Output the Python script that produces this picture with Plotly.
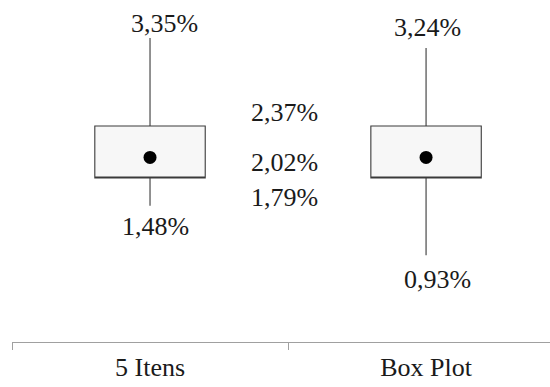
import plotly.graph_objects as go

categories = ["5 Itens", "Box Plot"]
q1_vals = [1.79, 1.79]
q3_vals = [2.37, 2.37]
mean_vals = [2.02, 2.02]
min_vals = [1.48, 0.93]
max_vals = [3.35, 3.24]

def fmt(v):
    return f"{v:.2f}".replace(".", ",") + "%"

FONT = "Liberation Serif"
TXT = "#1a1a1a"

fig = go.Figure()
fig.add_trace(go.Box(
    x=categories,
    q1=q1_vals, median=q1_vals, q3=q3_vals,
    lowerfence=min_vals, upperfence=max_vals,
    width=0.40, whiskerwidth=0,
    fillcolor="#f7f7f7",
    line=dict(color="#3a3a3a", width=1.1),
    boxpoints=False, hoverinfo="skip", showlegend=False,
))
fig.add_trace(go.Scatter(
    x=categories, y=mean_vals, mode="markers",
    marker=dict(color="black", size=13),
    hoverinfo="skip", showlegend=False,
))

ann = []
# top whisker labels
for c, v, xs, ys in zip(categories, max_vals, [14, 1], [15, 20]):
    ann.append(dict(x=c, y=v, text=fmt(v), xshift=xs, yshift=ys))
# bottom whisker labels
for c, v, xs, ys in zip(categories, min_vals, [5, 11], [-21, -24]):
    ann.append(dict(x=c, y=v, text=fmt(v), xshift=xs, yshift=ys))
# middle labels (shared quartiles / mean)
for v, ys in zip([q3_vals[0], mean_vals[0], q1_vals[0]], [14, -5, -19]):
    ann.append(dict(x=0.5, y=v, text=fmt(v), xshift=-4, yshift=ys))
for a in ann:
    a.update(xref="x", yref="y", showarrow=False, xanchor="center", yanchor="middle",
             font=dict(family=FONT, size=26, color=TXT))
fig.update_layout(annotations=ann)

fig.update_layout(
    width=550, height=387,
    margin=dict(l=12, r=0, t=0, b=45),
    paper_bgcolor="white", plot_bgcolor="white",
    xaxis=dict(
        type="category", range=[-0.5, 1.449],
        tickson="boundaries", ticks="outside", ticklen=7, tickcolor="#a0a0a0",
        showline=True, linecolor="#a0a0a0", linewidth=1,
        showgrid=False, zeroline=False, ticklabelstandoff=2,
        tickfont=dict(family=FONT, size=26, color=TXT),
    ),
    yaxis=dict(range=[-0.038, 3.775], visible=False, showgrid=False, zeroline=False),
)

fig.write_html("out.html", config={"displayModeBar": False},
               post_script="document.body.style.margin='0px';")
